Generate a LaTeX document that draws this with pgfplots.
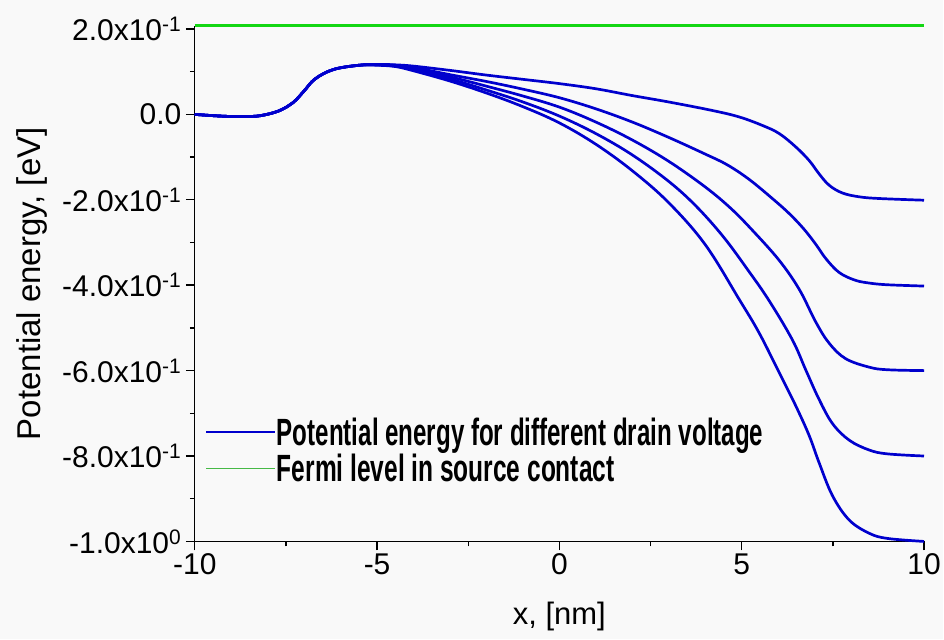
\documentclass[border=0pt]{standalone}
\usepackage{fontspec}
\setmainfont{Liberation Sans}
\usepackage{pgfplots}
\pgfplotsset{compat=1.18}
\usetikzlibrary{backgrounds}

\definecolor{potblue}{RGB}{0,0,205}
\definecolor{fermigreen}{RGB}{20,215,20}
\definecolor{legendgreen}{RGB}{70,185,70}
\definecolor{bggray}{RGB}{249,249,249}

\begin{document}
\begin{tikzpicture}
\begin{axis}[
    width=730pt, height=516pt,
    scale only axis,
    xmin=-10, xmax=10,
    ymin=-1.0, ymax=0.207,
    clip=false,
    axis x line*=bottom,
    axis y line*=left,
    axis line style={-, line width=1.4pt, black},
    tick align=outside,
    tick style={line width=1.4pt, black},
    major tick length=9pt,
    minor tick length=5pt,
    xtick={-10,-5,0,5,10},
    xticklabels={-10,-5,0,5,10},
    minor x tick num=1,
    ytick={0.2,0,-0.2,-0.4,-0.6,-0.8,-1.0},
    yticklabels={2.0x10\textsuperscript{-1}, 0.0,
                 -2.0x10\textsuperscript{-1}, -4.0x10\textsuperscript{-1},
                 -6.0x10\textsuperscript{-1}, -8.0x10\textsuperscript{-1},
                 -1.0x10\textsuperscript{0}},
    minor y tick num=1,
    /pgf/number format/assume math mode=true,
    tick label style={font=\fontsize{30}{34}\selectfont},
    yticklabel style={xshift=-1pt},
    xlabel={x, [nm]},
    ylabel={Potential energy, [eV]},
    xlabel style={font=\fontsize{31}{35}\selectfont, yshift=-20pt},
    ylabel style={font=\fontsize{33}{37}\selectfont, yshift=8pt},
    legend image code/.code={\draw[#1] (0pt,0pt) -- (69pt,0pt);},
    legend style={at={(rel axis cs:0.010,0.245)}, anchor=north west,
                  draw=none, fill=none, row sep=6pt,
                  nodes={inner sep=0.5pt},
                  font=\fontsize{38}{40}\selectfont\bfseries},
    legend cell align=left,
]
\addplot[fermigreen, line width=3pt, forget plot] coordinates {(-10,0.207)(10,0.207)};

\addplot[potblue, line width=2.7pt, smooth, tension=0.6, forget plot] coordinates {
(-10,0.000)(-9.5,-0.003)(-9,-0.005)(-8.6,-0.005)(-8.2,-0.003)(-7.7,0.008)(-7.3,0.028)
(-7,0.055)(-6.7,0.083)(-6.2,0.105)(-5.5,0.115)(-5,0.117)
(-4.5,0.116)(-4,0.113)(-3,0.103)(-2,0.092)(-1,0.082)(0,0.072)(1,0.060)(2,0.044)
(3,0.029)(4.2,0.009)(4.93,-0.006)(5.57,-0.026)(6.03,-0.045)(6.48,-0.076)(6.85,-0.108)
(7.12,-0.139)(7.4,-0.166)(7.76,-0.184)(8.22,-0.193)(8.77,-0.197)(10,-0.201)};

\addplot[potblue, line width=2.7pt, smooth, tension=0.6, forget plot] coordinates {
(-10,0.000)(-9.5,-0.003)(-9,-0.005)(-8.6,-0.005)(-8.2,-0.003)(-7.7,0.008)(-7.3,0.028)
(-7,0.055)(-6.7,0.083)(-6.2,0.105)(-5.5,0.115)(-5,0.117)
(-4.5,0.115)(-4,0.110)(-3,0.093)(-2,0.077)(-1,0.059)(0,0.039)(1,0.013)(2,-0.018)
(3,-0.054)(4,-0.093)(4.6,-0.118)(5.2,-0.152)(5.84,-0.197)(6.3,-0.232)(6.7,-0.268)
(7.03,-0.304)(7.31,-0.338)(7.67,-0.370)(8.1,-0.388)(8.5,-0.395)(9,-0.399)(10,-0.402)};

\addplot[potblue, line width=2.7pt, smooth, tension=0.6, forget plot] coordinates {
(-10,0.000)(-9.5,-0.003)(-9,-0.005)(-8.6,-0.005)(-8.2,-0.003)(-7.7,0.008)(-7.3,0.028)
(-7,0.055)(-6.7,0.083)(-6.2,0.105)(-5.5,0.115)(-5,0.116)
(-4.5,0.114)(-4,0.107)(-3,0.088)(-2,0.066)(-1,0.043)(0,0.017)(1,-0.018)(2,-0.060)
(3,-0.110)(4,-0.170)(4.7,-0.220)(5.3,-0.272)(6.03,-0.342)(6.58,-0.410)
(7.03,-0.486)(7.4,-0.536)(7.85,-0.572)(8.5,-0.592)(9,-0.598)(10,-0.600)};

\addplot[potblue, line width=2.7pt, smooth, tension=0.6, forget plot] coordinates {
(-10,0.000)(-9.5,-0.003)(-9,-0.005)(-8.6,-0.005)(-8.2,-0.003)(-7.7,0.008)(-7.3,0.028)
(-7,0.055)(-6.7,0.083)(-6.2,0.105)(-5.5,0.115)(-5,0.116)
(-4.5,0.113)(-4,0.105)(-3,0.083)(-2,0.057)(-1,0.029)(0,-0.004)(1,-0.045)(2,-0.095)
(3,-0.157)(3.75,-0.215)(4.5,-0.287)(5.2,-0.368)(5.75,-0.436)(6.39,-0.528)
(6.76,-0.599)(7.12,-0.667)(7.49,-0.724)(7.95,-0.763)(8.5,-0.786)(9,-0.795)(10,-0.800)};

\addplot[potblue, line width=2.7pt, smooth, tension=0.6, forget plot] coordinates {
(-10,0.000)(-9.5,-0.003)(-9,-0.005)(-8.6,-0.005)(-8.2,-0.003)(-7.7,0.008)(-7.3,0.028)
(-7,0.055)(-6.7,0.083)(-6.2,0.105)(-5.5,0.115)(-5,0.115)
(-4.5,0.112)(-4,0.102)(-3,0.078)(-2,0.050)(-1,0.018)(0,-0.020)(1,-0.070)(2,-0.132)
(3,-0.207)(4,-0.305)(4.93,-0.433)(5.48,-0.512)(6.03,-0.605)(6.48,-0.682)
(6.85,-0.752)(7.12,-0.815)(7.49,-0.893)(7.95,-0.950)(8.5,-0.981)(9,-0.993)(10,-1.000)};

\addlegendimage{potblue, line width=2.2pt}
\addlegendentry{\resizebox{487pt}{\height}{Potential energy for different drain voltage}}
\addlegendimage{legendgreen, line width=1.3pt}
\addlegendentry{\resizebox{338pt}{\height}{Fermi level in source contact}}

\coordinate (bl) at (rel axis cs:-0.2671,-0.1899);
\coordinate (tr) at (rel axis cs:1.0260,1.0504);
\end{axis}
\begin{scope}[on background layer]
\fill[bggray] (bl) rectangle (tr);
\end{scope}
\end{tikzpicture}
\end{document}
